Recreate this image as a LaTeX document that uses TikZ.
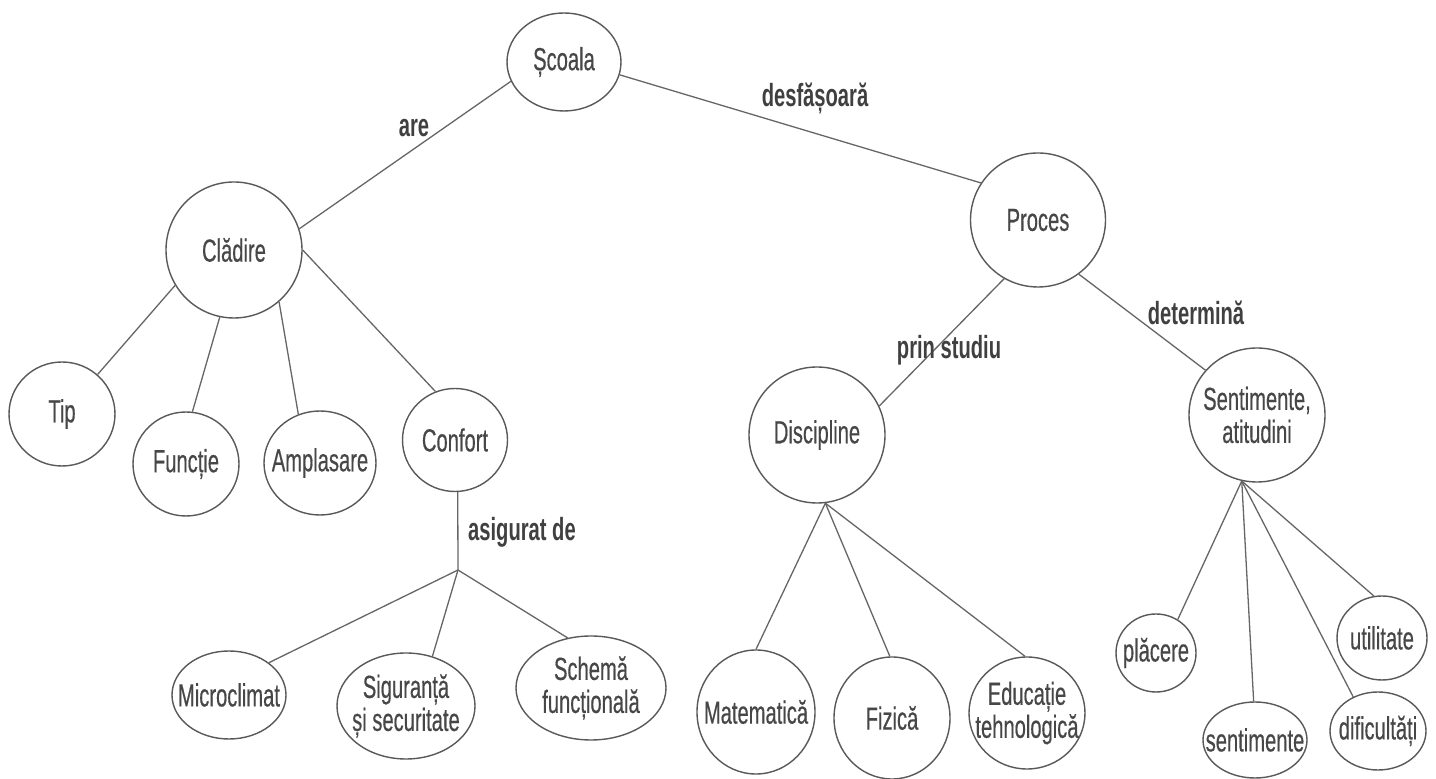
\documentclass[tikz,border=0pt]{standalone}
\usepackage{fontspec}
\setmainfont{Liberation Sans}[FakeStretch=0.63, UprightFeatures={FakeBold=0.4}]
\usetikzlibrary{shapes.geometric}
\begin{document}
\begin{tikzpicture}[x=0.5pt,y=-0.5pt,
  ell/.style 2 args={ellipse, draw=black!65, line width=0.7pt, inner sep=0pt,
     minimum width=#1pt, minimum height=#2pt},
  ltxt/.style={text=black!72, align=center, inner sep=0pt,
     font=\fontsize{16}{16.5}\selectfont},
  conn/.style={draw=black!60, line width=0.65pt},
  lab/.style={text=black!75, inner sep=0pt,
     font=\fontsize{16}{16.5}\selectfont\bfseries}]
\useasboundingbox[fill=white] (0,0) rectangle (1436,779);

% nodes
\node[ell={57}{49}, label={[ltxt]center:Școala}] (scoala) at (564,62) {};
\node[ell={68}{68}, label={[ltxt]center:Clădire}] (cladire) at (234,250) {};
\node[ell={67.5}{67}, label={[ltxt]center:Proces}] (proces) at (1038,220) {};
\node[ell={53}{52}, label={[ltxt]center:Tip}] (tip) at (62,414) {};
\node[ell={53}{52}, label={[ltxt]center:Funcție}] (functie) at (186,464) {};
\node[ell={56}{52}, label={[ltxt]center:Amplasare}] (ampl) at (320,463) {};
\node[ell={52.5}{51.5}, label={[ltxt]center:Confort}] (confort) at (455,440) {};
\node[ell={57}{44}, label={[ltxt]center:Microclimat}] (micro) at (229,695) {};
\node[ell={69}{53}, label={[ltxt]center:{Siguranță\\și securitate}}] (sigur) at (406,706) {};
\node[ell={75}{52}, label={[ltxt]center:{Schemă\\funcțională}}] (schema) at (591,688) {};
\node[ell={68}{68}, label={[ltxt]center:Discipline}] (disc) at (817,435) {};
\node[ell={59}{62}, label={[ltxt]center:Matematică}] (mate) at (756,712) {};
\node[ell={58}{61}, label={[ltxt]center:Fizică}] (fizica) at (892,718) {};
\node[ell={58}{56}, label={[ltxt]center:{Educație\\tehnologică}}] (educ) at (1027,713) {};
\node[ell={68}{67}, label={[ltxt]center:{Sentimente,\\atitudini}}] (sent) at (1257,415) {};
\node[ell={40}{39}, label={[ltxt]center:plăcere}] (placere) at (1156,653) {};
\node[ell={52}{38}, label={[ltxt]center:sentimente}] (sentim) at (1255,740) {};
\node[ell={48}{39}, label={[ltxt]center:dificultăți}] (dific) at (1378,731) {};
\node[ell={45}{42}, label={[ltxt]center:utilitate}] (util) at (1382,638) {};
\coordinate (j) at (458,570);

% connectors
\draw[conn] (scoala.200) -- (cladire.18);
\draw[conn] (scoala.347) -- (proces.147);
\draw[conn] (cladire.211) -- (tip.48);
\draw[conn] (cladire.258) -- (functie.83);
\draw[conn] (cladire.311) -- (ampl.114);
\draw[conn] (cladire.0) -- (confort.112);
\draw[conn] (confort.273) -- (j);
\draw[conn] (j) -- (micro.39);
\draw[conn] (j) -- (sigur.62);
\draw[conn] (j) -- (schema.115);
\draw[conn] (proces.240) -- (disc.25);
\draw[conn] (proces.307) -- (sent.139);
\draw[conn] (disc.277) -- (mate.90);
\draw[conn] (disc.277) -- (fizica.92);
\draw[conn] (disc.277) -- (educ.92);
\draw[conn] (sent.257) -- (placere.57);
\draw[conn] (sent.257) -- (sentim.92);
\draw[conn] (sent.257) -- (dific.126);
\draw[conn] (sent.257) -- (util.101);

% connector labels
\node[lab] (lare) at (414,128) {are};
\node[lab] (ldesf) at (815,98) {desfășoară};
\node[lab] (lprin) at (949,350) {prin studiu};
\node[lab] (ldet) at (1196,313) {determină};
\node[lab] (lasig) at (522,532) {asigurat de};
\end{tikzpicture}
\end{document}
